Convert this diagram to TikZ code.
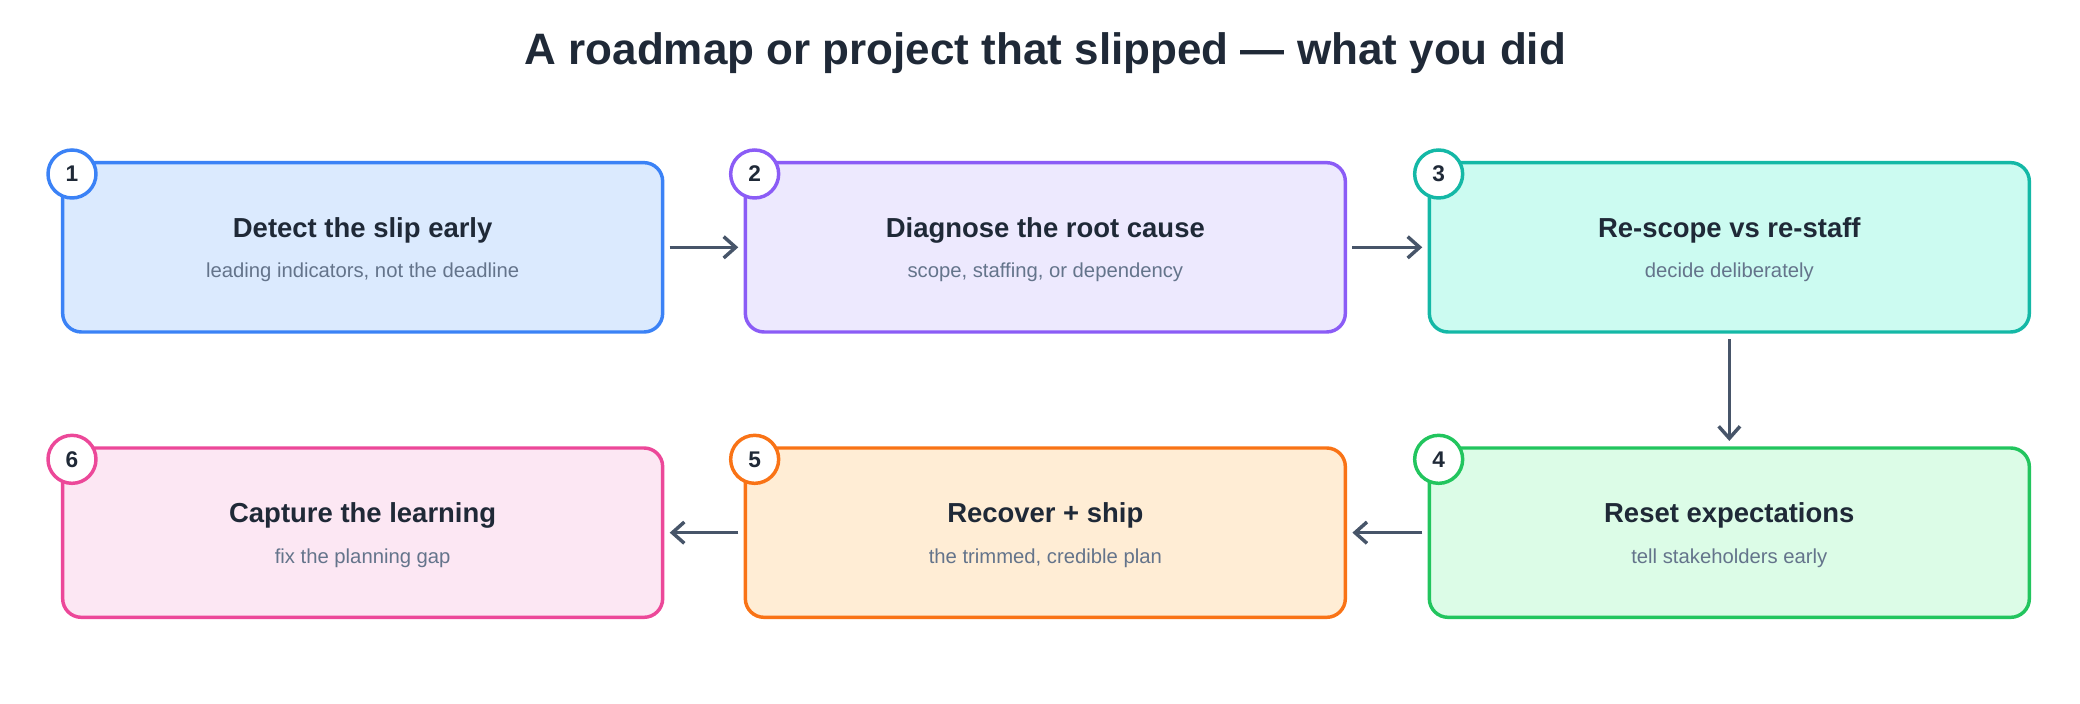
\documentclass[tikz,border=0pt]{standalone}
\usepackage{fontspec}
\setmainfont{Liberation Sans}
\usetikzlibrary{arrows.meta}
\definecolor{tdark}{HTML}{1F2937}
\definecolor{tsub}{HTML}{64748B}
\definecolor{arr}{HTML}{475569}
\definecolor{cA}{HTML}{3B82F6}\definecolor{fA}{HTML}{DBEAFE}
\definecolor{cB}{HTML}{8B5CF6}\definecolor{fB}{HTML}{EDE9FE}
\definecolor{cC}{HTML}{14B8A6}\definecolor{fC}{HTML}{CCFBF1}
\definecolor{cD}{HTML}{22C55E}\definecolor{fD}{HTML}{DCFCE7}
\definecolor{cE}{HTML}{F97316}\definecolor{fE}{HTML}{FFEDD5}
\definecolor{cF}{HTML}{EC4899}\definecolor{fF}{HTML}{FCE7F3}
\begin{document}
\begin{tikzpicture}[x=0.5pt,y=-0.5pt,
 box/.style={draw=#1,line width=1.3pt,rounded corners=7pt,minimum width=225pt,minimum height=63.5pt,inner sep=0pt},
 num/.style={circle,draw=#1,fill=white,line width=1.3pt,minimum size=18pt,inner sep=0pt,font=\bfseries\fontsize{8.5}{10}\selectfont,text=tdark},
 ttl/.style={font=\bfseries\fontsize{10.3}{12}\selectfont,text=tdark},
 sub/.style={font=\fontsize{7.6}{9}\selectfont,text=tsub},
 conn/.style={draw=arr,line width=1.3pt,-{Straight Barb[length=4.5pt,width=8pt]}}]
\useasboundingbox (0,0) rectangle (1560,528);
\node[font=\bfseries\fontsize{16.5}{20}\selectfont,text=tdark] (title) at (784,40) {A roadmap or project that slipped — what you did};
\foreach \n/\x/\y/\c/\t/\s in {
 1/272/185.5/A/Detect the slip early/{leading indicators, not the deadline},
 2/784/185.5/B/Diagnose the root cause/{scope, staffing, or dependency},
 3/1297/185.5/C/Re-scope vs re-staff/decide deliberately,
 4/1297/399.5/D/Reset expectations/tell stakeholders early,
 5/784/399.5/E/Recover + ship/{the trimmed, credible plan},
 6/272/399.5/F/Capture the learning/fix the planning gap}{
 \node[box=c\c,fill=f\c] (b\n) at (\x,\y) {};
 \node[ttl] (t\n) at (\x,\y-13) {\t};
 \node[sub] (s\n) at (\x,\y+19) {\s};
 \node[num=c\c] (n\n) at (\x-218,\y-55) {\n};
}
\draw[conn] ([xshift=2pt]b1.east) -- ([xshift=-2pt]b2.west);
\draw[conn] ([xshift=2pt]b2.east) -- ([xshift=-2pt]b3.west);
\draw[conn] ([yshift=-2pt]b3.south) -- ([yshift=2pt]b4.north);
\draw[conn] ([xshift=-2pt]b4.west) -- ([xshift=2pt]b5.east);
\draw[conn] ([xshift=-2pt]b5.west) -- ([xshift=2pt]b6.east);
\end{tikzpicture}
\end{document}
